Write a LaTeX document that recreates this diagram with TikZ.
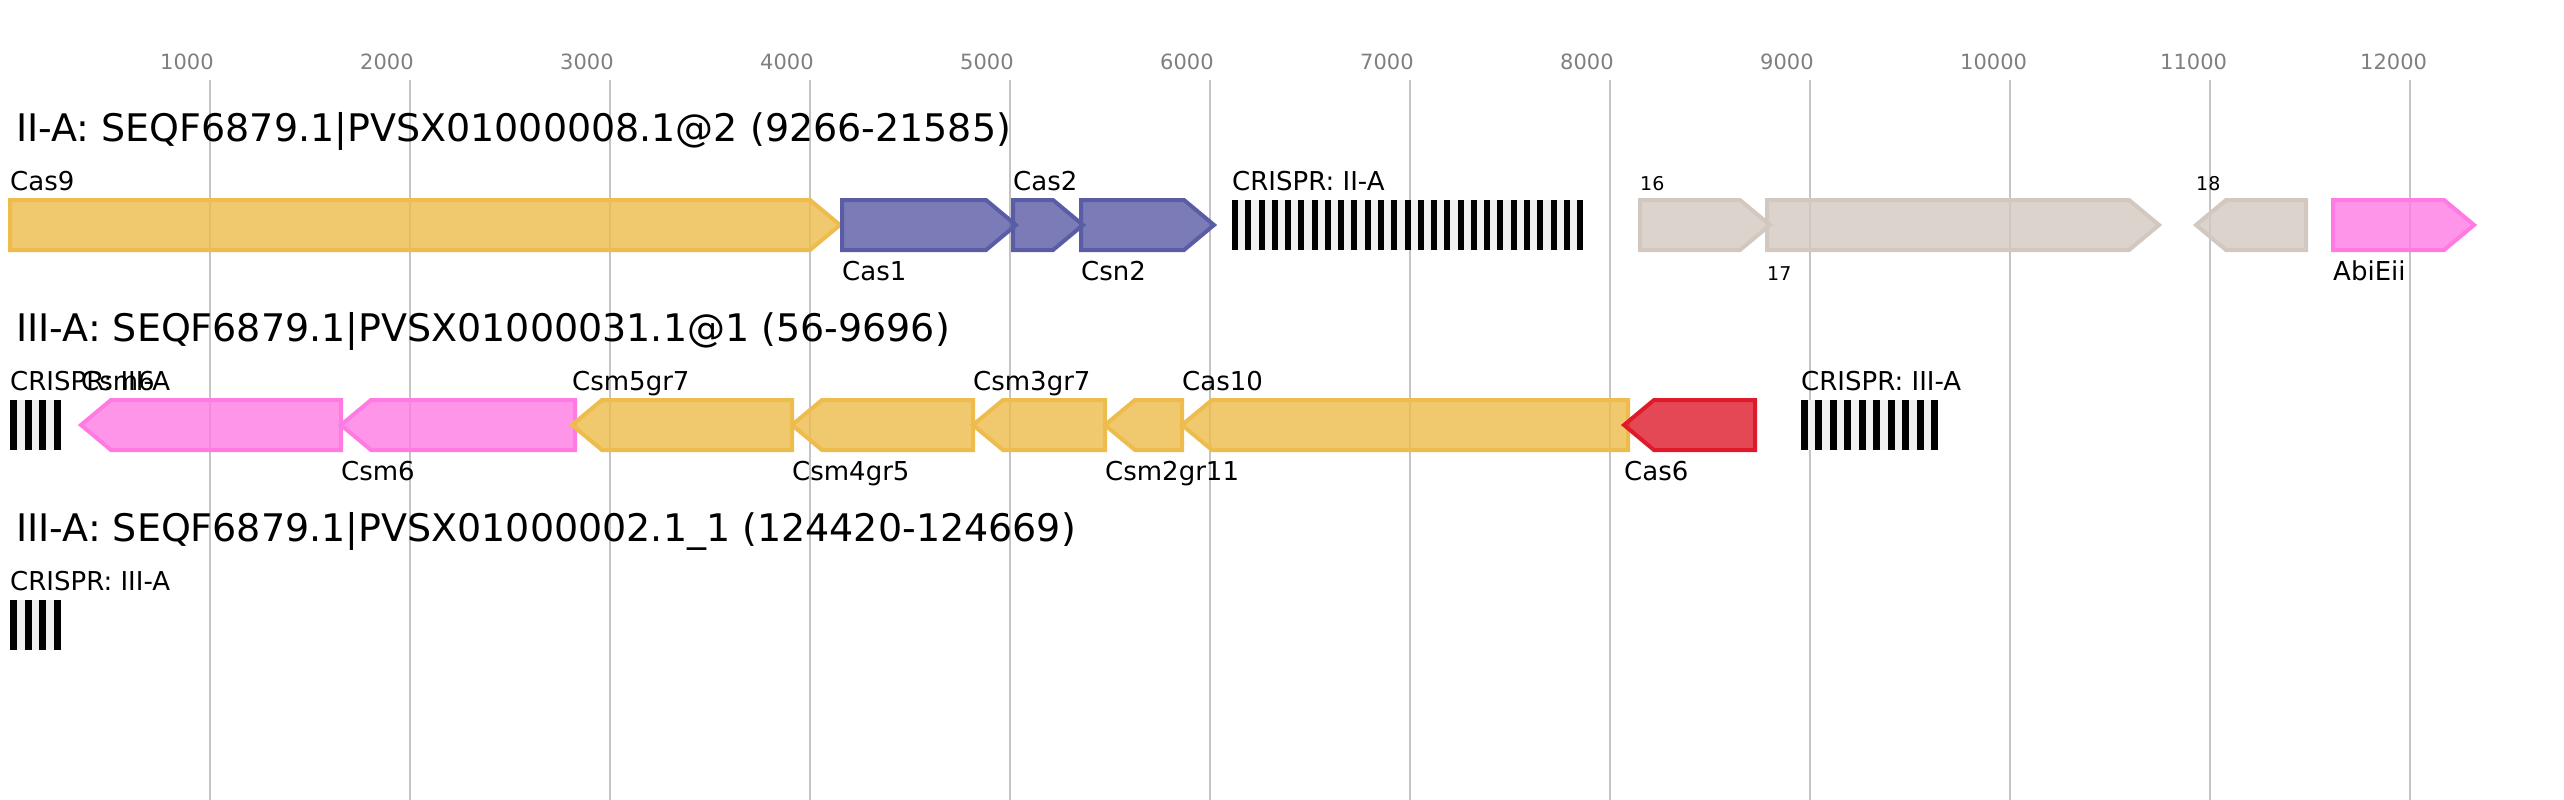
\documentclass[tikz,border=0pt]{standalone}
\usepackage{fontspec}
\setmainfont{DejaVu Sans}
\definecolor{casyellow}{HTML}{EDBC4C}
\definecolor{casblue}{HTML}{5A5CA6}
\definecolor{casbeige}{HTML}{D2C8C0}
\definecolor{caspink}{HTML}{FF7BE3}
\definecolor{casred}{HTML}{DF1B2B}
\definecolor{spacergray}{HTML}{F0F0F0}
\definecolor{gridgray}{HTML}{C4C4C4}
\definecolor{tickgray}{HTML}{808080}

\begin{document}
\begin{tikzpicture}[x=1pt,y=-1pt,
	every node/.style={inner sep=0pt,anchor=base west},
	gene/.style={line width=4pt,line join=miter,fill opacity=0.8},
	genelabel/.style={font=\fontsize{26}{30}\selectfont},
	smalllabel/.style={font=\fontsize{19}{22}\selectfont},
	rowtitle/.style={font=\fontsize{38}{44}\selectfont},
	tickfont/.style={font=\fontsize{21}{24}\selectfont,text=tickgray},
	gridline/.style={draw=gridgray,line width=2pt}]
	\fill[white] (0,0) rectangle (2564,800);
	\useasboundingbox (0,0) rectangle (2564,800);
	% scale
	\foreach \k in {1,...,12} {
		\draw[gridline] ({10+200*\k},80) -- ({10+200*\k},800);
		\node[tickfont] (tick\k) at ({-40+200*\k},70) {\k000};
	}
	% II-A
	\node[rowtitle] (title1) at (16,141) {II-A: SEQF6879.1|PVSX01000008.1@2 (9266-21585)};
	\draw[gene,draw=casyellow,fill=casyellow] (10,200) -- (810,200) -- (840,225) -- (810,250) -- (10,250) -- cycle;
	\draw[gene,draw=casblue,fill=casblue] (842,200) -- (986,200) -- (1016,225) -- (986,250) -- (842,250) -- cycle;
	\draw[gene,draw=casblue,fill=casblue] (1013,200) -- (1053,200) -- (1083,225) -- (1053,250) -- (1013,250) -- cycle;
	\draw[gene,draw=casblue,fill=casblue] (1081,200) -- (1184,200) -- (1214,225) -- (1184,250) -- (1081,250) -- cycle;
	\fill[spacergray] (1232,200) rectangle (1583,250);
	\foreach \i in {0,...,26}
		\fill[black] ({1232+13.27*\i},200) rectangle ++(6,50);
	\draw[gene,draw=casbeige,fill=casbeige] (1640,200) -- (1740,200) -- (1770,225) -- (1740,250) -- (1640,250) -- cycle;
	\draw[gene,draw=casbeige,fill=casbeige] (1767,200) -- (2129,200) -- (2159,225) -- (2129,250) -- (1767,250) -- cycle;
	\draw[gene,draw=casbeige,fill=casbeige] (2196,225) -- (2226,200) -- (2306,200) -- (2306,250) -- (2226,250) -- cycle;
	\draw[gene,draw=caspink,fill=caspink] (2333,200) -- (2444,200) -- (2474,225) -- (2444,250) -- (2333,250) -- cycle;
	\node[genelabel] (cas9) at (10,190) {Cas9};
	\node[genelabel] (cas1) at (842,280) {Cas1};
	\node[genelabel] (cas2) at (1013,190) {Cas2};
	\node[genelabel] (csn2) at (1081,280) {Csn2};
	\node[genelabel] (crispr1) at (1232,190) {CRISPR: II-A};
	\node[smalllabel] (orf16) at (1640,190) {16};
	\node[smalllabel] (orf17) at (1767,280) {17};
	\node[smalllabel] (orf18) at (2196,190) {18};
	\node[genelabel] (abieii) at (2333,280) {AbiEii};
	% III-A
	\node[rowtitle] (title2) at (16,341) {III-A: SEQF6879.1|PVSX01000031.1@1 (56-9696)};
	\fill[spacergray] (10,400) rectangle (61,450);
	\foreach \i in {0,...,3}
		\fill[black] ({10+14.67*\i},400) rectangle ++(7,50);
	\draw[gene,draw=caspink,fill=caspink] (81,425) -- (111,400) -- (341,400) -- (341,450) -- (111,450) -- cycle;
	\draw[gene,draw=caspink,fill=caspink] (341,425) -- (371,400) -- (575,400) -- (575,450) -- (371,450) -- cycle;
	\draw[gene,draw=casyellow,fill=casyellow] (572,425) -- (602,400) -- (792,400) -- (792,450) -- (602,450) -- cycle;
	\draw[gene,draw=casyellow,fill=casyellow] (792,425) -- (822,400) -- (973,400) -- (973,450) -- (822,450) -- cycle;
	\draw[gene,draw=casyellow,fill=casyellow] (973,425) -- (1003,400) -- (1105,400) -- (1105,450) -- (1003,450) -- cycle;
	\draw[gene,draw=casyellow,fill=casyellow] (1105,425) -- (1135,400) -- (1182,400) -- (1182,450) -- (1135,450) -- cycle;
	\draw[gene,draw=casyellow,fill=casyellow] (1182,425) -- (1212,400) -- (1628,400) -- (1628,450) -- (1212,450) -- cycle;
	\draw[gene,draw=casred,fill=casred] (1624,425) -- (1654,400) -- (1755,400) -- (1755,450) -- (1654,450) -- cycle;
	\fill[spacergray] (1801,400) rectangle (1938,450);
	\foreach \i in {0,...,9}
		\fill[black] ({1801+14.44*\i},400) rectangle ++(7,50);
	\node[genelabel] (crispr2) at (10,390) {CRISPR: III-A};
	\node[genelabel] (csm6a) at (81,390) {Csm6};
	\node[genelabel] (csm6b) at (341,480) {Csm6};
	\node[genelabel] (csm5) at (572,390) {Csm5gr7};
	\node[genelabel] (csm4) at (792,480) {Csm4gr5};
	\node[genelabel] (csm3) at (973,390) {Csm3gr7};
	\node[genelabel] (csm2) at (1105,480) {Csm2gr11};
	\node[genelabel] (cas10) at (1182,390) {Cas10};
	\node[genelabel] (cas6) at (1624,480) {Cas6};
	\node[genelabel] (crispr3) at (1801,390) {CRISPR: III-A};
	% III-A, lone array
	\node[rowtitle] (title3) at (16,541) {III-A: SEQF6879.1|PVSX01000002.1\_1 (124420-124669)};
	\fill[spacergray] (10,600) rectangle (61,650);
	\foreach \i in {0,...,3}
		\fill[black] ({10+14.67*\i},600) rectangle ++(7,50);
	\node[genelabel] (crispr4) at (10,590) {CRISPR: III-A};
\end{tikzpicture}
\end{document}
